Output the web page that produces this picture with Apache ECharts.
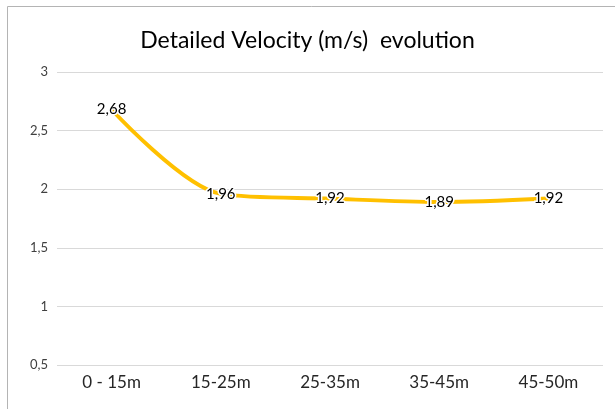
<!DOCTYPE html>
<html>
<head>
<meta charset="utf-8">
<script src="https://cdn.jsdelivr.net/npm/echarts@6/dist/echarts.min.js"></script>
<style>
  html, body { margin: 0; padding: 0; background: #fff; }
  #chart { width: 615px; height: 409px; }
</style>
</head>
<body>
<div id="chart"></div>
<script>
const categories = ['0 - 15m', '15-25m', '25-35m', '35-45m', '45-50m'];
const velocity = [2.68, 1.96, 1.92, 1.89, 1.92];
const yTicks = [0.5, 1, 1.5, 2, 2.5, 3];

const font = 'Lato, "Open Sans", sans-serif';
const comma = v => String(v).replace('.', ',');

let chart = echarts.init(document.getElementById('chart'));
chart.setOption({
    animation: false,
    textStyle: { fontFamily: font },
    title: {
        text: 'Detailed Velocity (m/s)  evolution',
        left: 'center',
        top: 24,
        textStyle: { fontFamily: font, fontSize: 23, fontWeight: 'normal', color: '#000' }
    },
    graphic: [{
        type: 'rect',
        silent: true,
        shape: { x: 7.5, y: 6.5, width: 640, height: 440 },
        style: { fill: 'none', stroke: '#b4b4b4', lineWidth: 1 }
    }],
    grid: { left: 57, right: 12, top: 72, bottom: 44 },
    xAxis: {
        type: 'category',
        data: categories,
        boundaryGap: true,
        axisLine: { show: false },
        axisTick: { show: false },
        axisLabel: { fontSize: 17, color: '#262626', margin: 9, fontFamily: font }
    },
    yAxis: {
        type: 'value',
        min: yTicks[0],
        max: yTicks[yTicks.length - 1],
        interval: 0.5,
        axisLine: { show: false },
        axisTick: { show: false },
        splitLine: { lineStyle: { color: '#d9d9d9', width: 1 } },
        axisLabel: { fontSize: 13, color: '#404040', margin: 9, fontFamily: font, formatter: comma }
    },
    series: [{
        type: 'line',
        data: velocity,
        smooth: 0.3,
        symbol: 'circle',
        symbolSize: 2,
        showSymbol: true,
        itemStyle: { color: 'rgba(255,192,0,0)', borderWidth: 0 },
        lineStyle: { color: '#ffc000', width: 4 },
        label: {
            show: true,
            position: 'inside',
            fontSize: 15,
            color: '#000',
            opacity: 1,
            fontFamily: font,
            textBorderColor: '#fff',
            textBorderWidth: 3,
            formatter: p => comma(p.value)
        },
        z: 3
    }]
});
</script>
</body>
</html>
